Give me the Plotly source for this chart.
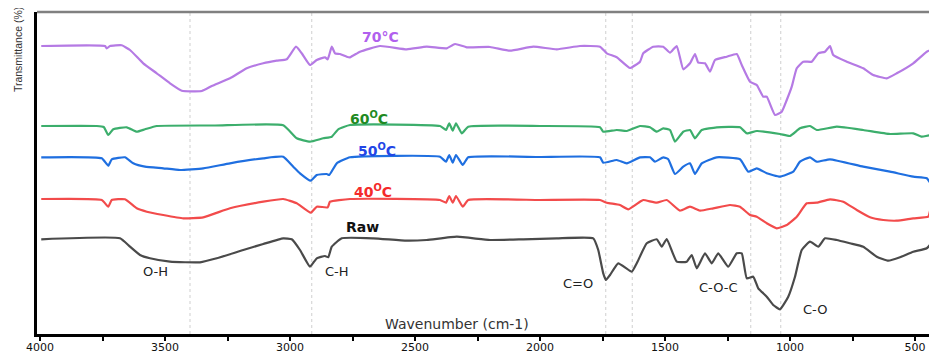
import plotly.graph_objects as go

# ---------------- data (wavenumber cm-1, offset transmittance, arbitrary units) ----------------
wn_70 = [3995, 3740, 3733, 3720, 3673, 3640, 3587, 3533, 3480, 3433, 3353, 3313, 3240, 3173, 3107, 3053,
         3013, 2976, 2953, 2920, 2893, 2860, 2849, 2833, 2820, 2800, 2773, 2760, 2720, 2640, 2533, 2453,
         2373, 2340, 2293, 2200, 2120, 2027, 1933, 1840, 1760, 1733, 1693, 1640, 1600, 1587, 1547, 1507,
         1480, 1453, 1427, 1400, 1380, 1367, 1340, 1320, 1300, 1253, 1213, 1193, 1160, 1133, 1107, 1093,
         1060, 1033, 1013, 993, 973, 947, 913, 887, 860, 840, 827, 773, 707, 667, 613, 573, 507, 453, 420]
t_70 = [288, 288, 285.5, 288, 288.7, 284, 270.7, 260.7, 250.7, 243.3, 243, 248, 255.7, 265.7, 270.7, 273.3,
        274.7, 287.3, 280.7, 269, 274, 276.7, 274.7, 287.3, 280.7, 280, 277.3, 276.7, 282.3, 288, 284.7, 287.3,
        285.7, 290, 286.7, 287, 283.3, 287.3, 284.7, 288, 287.3, 280.7, 276.7, 266, 272.3, 280.7, 287.3, 287.3,
        281.3, 288, 264.7, 270.7, 280, 271.3, 270.7, 262.3, 274, 277.3, 280, 269, 252.3, 249, 237.3, 237.3,
        219, 222.3, 234, 247.3, 265.7, 272.3, 272.3, 280.7, 282.3, 288, 279, 272.3, 265.7, 259, 255.7, 260.7,
        270.7, 282.3, 285.7]

wn_60 = [3995, 3773, 3745, 3727, 3707, 3653, 3613, 3580, 3533, 3300, 3027, 2973, 2920, 2867, 2833, 2807,
         2760, 2400, 2376, 2363, 2349, 2336, 2313, 2287, 2000, 1760, 1747, 1693, 1653, 1600, 1560, 1533,
         1507, 1480, 1460, 1427, 1400, 1380, 1353, 1293, 1200, 1173, 1133, 1040, 1000, 960, 920, 893, 813,
         707, 600, 507, 473, 440, 425, 420]
t_60 = [208, 208, 207, 199, 204.7, 206.7, 202.3, 204.7, 208, 208.5, 208.7, 195.7, 192.3, 195.7, 197.3, 204.7,
        209, 208, 204, 210.7, 203.3, 210.7, 200.7, 207.3, 208, 206.7, 202.3, 204, 203, 208, 206.7, 202.3,
        205.7, 204, 192.3, 202.3, 204, 195.7, 204, 206.7, 206.7, 200.7, 203, 200, 198, 205.7, 208, 204, 207.3,
        204, 200, 200.7, 197.3, 199, 202, 187.3]

wn_50 = [3995, 3753, 3727, 3713, 3660, 3627, 3580, 3507, 3440, 3347, 3240, 3107, 3027, 2987, 2960, 2917,
         2893, 2853, 2843, 2813, 2760, 2400, 2376, 2363, 2349, 2336, 2309, 2287, 2000, 1760, 1747, 1693,
         1653, 1600, 1560, 1540, 1507, 1487, 1460, 1427, 1400, 1380, 1353, 1293, 1200, 1167, 1133, 1093,
         1040, 987, 960, 920, 893, 840, 707, 600, 507, 453, 427, 420]
t_50 = [176.7, 175.7, 168.3, 174.7, 176.7, 170.7, 167.3, 165.7, 164, 165.7, 170.7, 175.7, 177.3, 167.3, 160.7, 153.3,
        159, 160, 159, 170.7, 176.7, 177.3, 172.3, 179, 171.3, 179, 169, 176.7, 177, 176.7, 171.3, 174,
        170.7, 176.7, 176.7, 172.3, 176.7, 174.7, 160, 167.3, 170.7, 160, 170.7, 176.7, 174.7, 162.3, 165.7, 160.7,
        157.3, 162.3, 172.3, 176.7, 172.3, 174.7, 167.3, 162.3, 157.3, 155.7, 147.3, 174]

wn_40 = [3995, 3753, 3727, 3713, 3660, 3613, 3573, 3507, 3427, 3347, 3240, 3107, 3027, 2973, 2917, 2893,
         2849, 2840, 2760, 2400, 2376, 2363, 2349, 2336, 2309, 2287, 2000, 1760, 1733, 1680, 1647, 1600,
         1587, 1533, 1493, 1440, 1400, 1360, 1307, 1240, 1200, 1160, 1133, 1093, 1053, 1013, 973, 933, 893,
         840, 787, 733, 680, 627, 573, 507, 447, 437, 430, 425, 420]
t_40 = [135, 134, 127.3, 134, 134.7, 125.7, 122.3, 119, 115.7, 116.7, 125.7, 132.3, 135, 130.7, 121.3, 127.3,
        126.7, 132.3, 135, 134, 131.3, 138, 131.3, 138, 127.3, 134, 134, 134, 131.3, 129, 124.7, 132.3,
        134, 131.3, 134, 123.3, 127.3, 123.3, 125.7, 129, 127.3, 119, 117.3, 110.7, 105.7, 109, 117.3, 130.7, 131.3,
        134.7, 132.3, 124, 116.7, 114, 113.3, 115.7, 117.3, 126, 107.3, 134, 119]

wn_raw = [3995, 3680, 3640, 3600, 3560, 3480, 3360, 3293, 3187, 3107, 3027, 2993, 2960, 2920, 2893, 2860,
          2847, 2833, 2793, 2667, 2533, 2453, 2333, 2200, 2067, 1933, 1787, 1767, 1747, 1736, 1720, 1687,
          1633, 1613, 1573, 1533, 1513, 1493, 1453, 1413, 1393, 1373, 1340, 1313, 1287, 1247, 1213, 1193,
          1173, 1147, 1127, 1093, 1067, 1040, 1007, 980, 953, 920, 887, 860, 813, 760, 707, 653, 607, 560,
          507, 453, 420]
t_raw = [94.7, 95.7, 87.3, 79, 75.7, 72.3, 71.7, 75.7, 84, 90, 95.7, 94.7, 84, 67.3, 75.7, 78,
         76.7, 87.3, 95.7, 95.7, 93.3, 94, 97.3, 94, 94.7, 95.7, 95.7, 84, 60.7, 54, 59, 70.7,
         62.3, 70.7, 90.7, 94.7, 87.3, 95, 72.3, 72.3, 79, 65.7, 80.7, 70.7, 80.7, 67.3, 80.7, 80.7,
         55.7, 57.3, 45.7, 37.3, 29, 24.7, 37.3, 57.3, 84, 92.3, 87.3, 95.7, 94, 90.7, 87.3, 77.3, 73.3, 76.7,
         82.3, 85.7, 95.7]

series_names = ["70°C", "60°C", "50°C", "40°C", "Raw"]
band_lines = [3400, 2913, 1737, 1631, 1157, 1037]
tick_vals = [4000, 3500, 3000, 2500, 2000, 1500, 1000, 500]
tick_text = ["4000", "3500", "3000", "2500", "2000", "1500", "1000", "500"]

# ---------------- figure ----------------
fig = go.Figure()
series = [
    (wn_70, t_70, "#b57ae4"),
    (wn_60, t_60, "#3cae6c"),
    (wn_50, t_50, "#1f6fe0"),
    (wn_40, t_40, "#f24b4b"),
    (wn_raw, t_raw, "#4a4a4a"),
]
for (x, y, c), name in zip(series, series_names):
    fig.add_trace(go.Scatter(x=x, y=y, mode="lines", name=name,
                             line=dict(color=c, width=2.2, shape="spline", smoothing=0.4),
                             showlegend=False, hoverinfo="skip"))

for b in band_lines:
    fig.add_shape(type="line", xref="x", yref="paper", x0=b, x1=b, y0=0, y1=1,
                  line=dict(color="#cfcfcf", width=1, dash="dot"), layer="below")

# top frame line
fig.add_shape(type="line", xref="paper", yref="paper", x0=0, x1=1, y0=1, y1=1,
              line=dict(color="#808080", width=2.5))

curve_labels = [
    ("70°C", 2640, 297.5, "#b160ee"),
    ("60<sup>O</sup>C", 2684, 216, "#1f8a22"),
    ("50<sup>O</sup>C", 2652, 184, "#2346e6"),
    ("40<sup>O</sup>C", 2668, 143.3, "#f42a2a"),
    ("Raw", 2712, 107.3, "#111111"),
]
for txt, x, y, c in curve_labels:
    fig.add_annotation(x=x, y=y, text=f"<b>{txt}</b>", showarrow=False,
                       font=dict(family="DejaVu Sans", size=14, color=c))

band_labels = [
    ("O-H", 3540, 63), ("C-H", 2812, 63), ("C=O", 1848, 51),
    ("C-O-C", 1288, 46.3), ("C-O", 900, 25),
]
for txt, x, y in band_labels:
    fig.add_annotation(x=x, y=y, text=txt, showarrow=False,
                       font=dict(family="DejaVu Sans", size=13, color="#222222"))

fig.add_annotation(x=2332, y=10, text="Wavenumber (cm-1)", showarrow=False,
                   font=dict(family="DejaVu Sans", size=14, color="#333333"))

fig.add_annotation(xref="paper", yref="paper", x=-0.021, y=0.882, xanchor="center", yanchor="middle",
                   text="Transmittance (%)", textangle=-90, showarrow=False,
                   font=dict(family="Liberation Sans Narrow, Liberation Sans", size=10.5, color="#333333"))

# the page body adds an 8px offset, so the figure is sized to fit the window from there
fig.update_layout(
    width=929, height=346,
    margin=dict(l=29, r=0, t=4, b=20, autoexpand=False),
    paper_bgcolor="white", plot_bgcolor="white",
    xaxis=dict(range=[4012, 412], tickvals=tick_vals, ticktext=tick_text, automargin=False,
               showline=True, linecolor="black", linewidth=3,
               ticks="outside", ticklen=4, tickwidth=2, tickcolor="black", ticklabelstandoff=-3,
               minor=dict(ticks="outside", ticklen=4, tickwidth=2, tickcolor="black", dtick=250, tick0=0),
               showgrid=False, zeroline=False,
               tickfont=dict(family="DejaVu Sans", size=11, color="#111111")),
    yaxis=dict(range=[0, 322], automargin=False, showline=True, linecolor="black", linewidth=3,
               showticklabels=False, ticks="", showgrid=False, zeroline=False),
)

fig.write_html("out.html")
